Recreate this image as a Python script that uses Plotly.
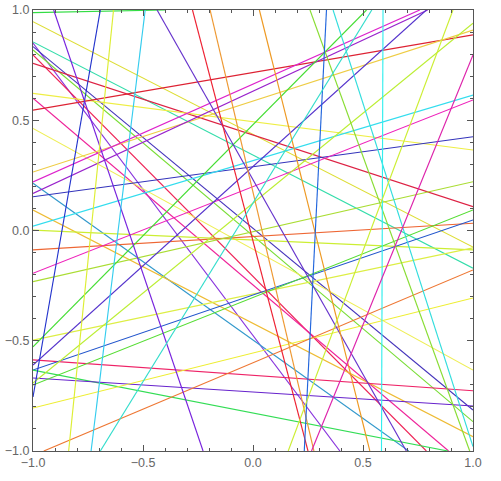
import plotly.graph_objects as go

# line endpoints (data coordinates)
x_start = [-1, -1, -1, -1, -1, -1, -1, -1, -1, -1,
           -1, -1, -1, -1, -1, -1, -1, -1, -1, -1,
           -1, -1, -1, -1, -1, -1, -1, -1, -1, -1,
           -1, -1, -0.694, -1, -0.951, -0.906, -0.634, -0.490, -0.436, -0.275,
           -0.195, 0.029, 0.259, 0.334, 0.364, 0.540, 0.591, 0.909, 1]
y_start = [0.988, 0.947, 0.855, 0.850, 0.834, 0.819, 0.796, 0.758, 0.622, 0.600,
           0.546, 0.463, 0.265, 0.220, 0.214, 0.168, 0.153, 0.093, 0.020, 0.002,
           -0.088, -0.194, -0.232, -0.497, -0.528, -0.587, -0.610, -0.633, -0.633, -0.669,
           -0.701, -0.692, 1, -0.805, -1, 1, 1, 1, 1, 1,
           1, 1, 1, 1, 1, 1, 1, 1, 0.796]
x_end = [-0.399, 1, 1, 0.395, 1, 1, 0.788, 1, 1, 0.889,
         1, 1, 1, 0.758, 0.708, 0.794, 1, 1, 1, 1,
         1, 1, 1, 1, 0.516, 1, 0.788, 1, 0.886, 1,
         1, 1, -1, 1, 1, -0.227, -0.838, -0.736, 0.697, 0.250,
         0.277, 0.531, 0.985, 0.233, 1, -0.694, 0.584, 0.160, 0.266]
y_end = [1, -0.075, -0.171, -1, -0.814, -0.867, -1, 0.108, 0.365, -1,
         0.887, -0.633, 0.909, 1, -1, 1, 0.425, -0.935, 0.614, -0.088,
         0.033, 0.592, 0.221, -0.079, 1, -0.727, 1, 0.048, -1, -0.796,
         0.093, 0.940, -0.755, -0.306, -0.179, -1, -1, -1, -1, -1,
         -1, -1, -1, -1, -0.980, -1, -1, -1, -1]
line_colors = ["#33dd44", "#dddd33", "#33ddaa", "#8833dd", "#4433bb", "#77dd33", "#ee2255", "#dd2244", "#eeee44", "#ee2299",
               "#dd2233", "#eeee55", "#eecc44", "#dd22cc", "#3399cc", "#9922cc", "#3333bb", "#eebb33", "#33ddee", "#ccee33",
               "#ee6633", "#ee22bb", "#aadd33", "#ddee44", "#44dd33", "#ee2266", "#5533cc", "#2255cc", "#33dd55", "#6622cc",
               "#55dd33", "#bbee33", "#2233cc", "#eeee33", "#ee7733", "#7722dd", "#ddee33", "#33ccee", "#6633cc", "#ee2233",
               "#ee9933", "#ee9922", "#88dd33", "#2266dd", "#33dddd", "#33ddcc", "#33eeee", "#ccee33", "#dd22aa"]

tick_vals = [-1.0, -0.5, 0.0, 0.5, 1.0]

fig = go.Figure()
for xa, ya, xb, yb, c in zip(x_start, y_start, x_end, y_end, line_colors):
    fig.add_trace(go.Scatter(x=[xa, xb], y=[ya, yb], mode="lines",
                             line=dict(color=c, width=1.15), hoverinfo="skip",
                             showlegend=False))

axis_style = dict(range=[-1, 1], tickvals=tick_vals, tickformat=".1f", automargin=False,
                  showgrid=False, zeroline=False, showline=True, linecolor="#555555",
                  linewidth=1, mirror="ticks", ticks="inside", ticklen=6,
                  tickcolor="#555555", tickfont=dict(family="Liberation Sans", size=12.5, color="#666666"),
                  minor=dict(dtick=0.1, tick0=-1, ticks="inside", ticklen=3, tickcolor="#555555"))

fig.update_layout(width=501, height=481, plot_bgcolor="white", paper_bgcolor="white",
                  margin=dict(l=32.5, r=27.7, t=10, b=30),
                  xaxis=axis_style, yaxis=axis_style)

fig.write_html("out.html", config={"displayModeBar": False, "staticPlot": True},
               post_script="document.body.style.margin='0';")
